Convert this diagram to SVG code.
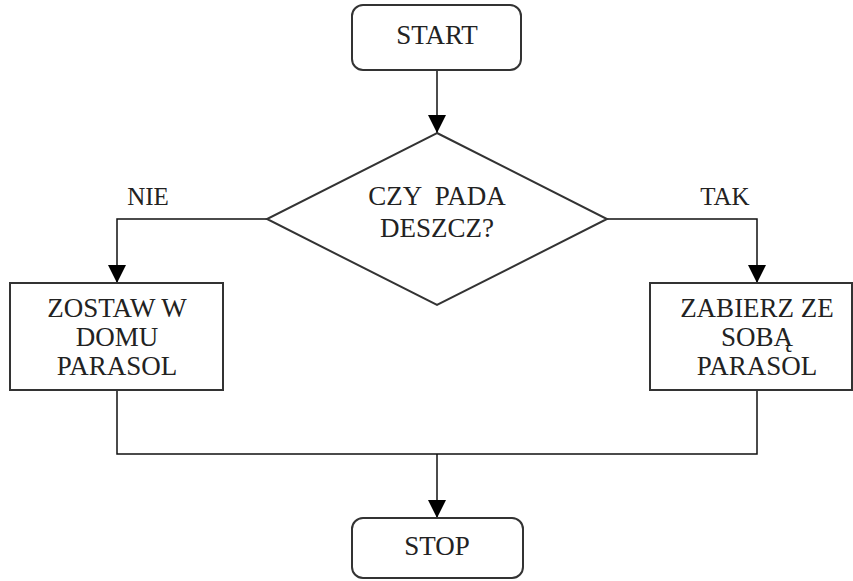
<svg xmlns="http://www.w3.org/2000/svg" width="853" height="581" viewBox="0 0 853 581">
<defs>
<marker id="arr" markerWidth="18" markerHeight="18" viewBox="0 0 18 18" refX="18" refY="9" orient="auto" markerUnits="userSpaceOnUse">
<path d="M0,0 L18,9 L0,18 Z" fill="#000"/>
</marker>
<style>
.box{fill:#fff;stroke:#333;stroke-width:2}
.ln{fill:none;stroke:#111;stroke-width:1.5}
.t{font-family:'Liberation Serif','Times New Roman','DejaVu Serif',serif;font-size:27px;fill:#222;text-anchor:middle}
.lbl{font-size:25px}
</style>
</defs>
<rect width="853" height="581" fill="#fff"/>
<g id="connectors">
<path class="ln" d="M437,70 L437,133" marker-end="url(#arr)"/>
<path class="ln" d="M267,219 L117,219 L117,283" marker-end="url(#arr)"/>
<path class="ln" d="M607,219 L757,219 L757,283" marker-end="url(#arr)"/>
<path class="ln" d="M117,390 L117,454 L757,454 L757,390"/>
<path class="ln" d="M437,454 L437,518" marker-end="url(#arr)"/>
</g>
<g class="t" font-family="Liberation Serif, Times New Roman, serif">
<g id="start">
<rect class="box" x="352" y="5" width="169" height="65" rx="11"/>
<text x="437" y="44">START</text>
</g>
<g id="decision">
<polygon class="box" points="437,133 607,219 437,305 267,219"/>
<text x="437" y="205" xml:space="preserve">CZY  PADA</text>
<text x="437" y="237">DESZCZ?</text>
</g>
<g id="label-nie"><text class="lbl" x="148" y="205">NIE</text></g>
<g id="label-tak"><text class="lbl" x="725" y="205">TAK</text></g>
<g id="leave">
<rect class="box" x="10" y="283" width="213" height="107"/>
<text x="117" y="317">ZOSTAW W</text>
<text x="117" y="346">DOMU</text>
<text x="117" y="375">PARASOL</text>
</g>
<g id="take">
<rect class="box" x="650" y="283" width="202" height="107"/>
<text x="757" y="317">ZABIERZ ZE</text>
<text x="757" y="346">SOBĄ</text>
<text x="757" y="375">PARASOL</text>
</g>
<g id="stop">
<rect class="box" x="352" y="518" width="171" height="60" rx="11"/>
<text x="437" y="555">STOP</text>
</g>
</g>
</svg>
